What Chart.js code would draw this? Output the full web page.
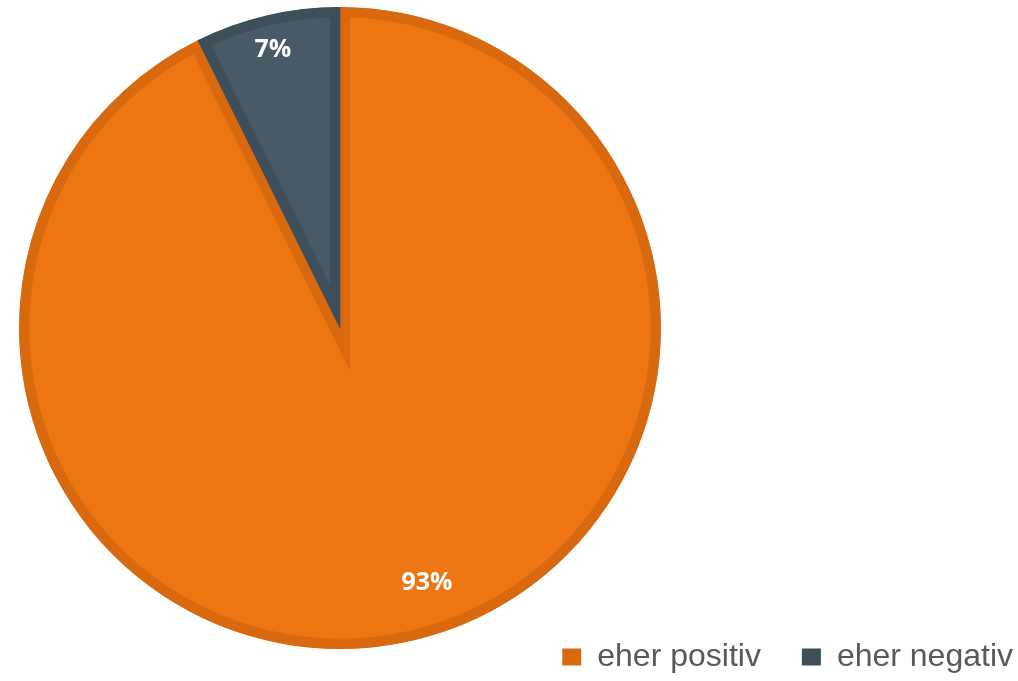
<!DOCTYPE html>
<html>
<head>
<meta charset="utf-8">
<script src="https://cdn.jsdelivr.net/npm/chart.js@4/dist/chart.umd.min.js"></script>
<style>
  html, body { margin: 0; padding: 0; background: #fff; }
  #wrap { width: 1018px; height: 681px; }
</style>
</head>
<body>
<div id="wrap"><canvas id="pie_chart"></canvas></div>
<script>
// datos
const categories = ["eher positiv", "eher negativ"];
const values = [92.7, 7.3];

const fillColors = ['#ED7512', '#485A65'];
const edgeColors = ['#D9690F', '#3F4F59'];

// mueve el pastel a la izquierda y la leyenda abajo a la derecha
const placeBoxes = {
    id: 'placeBoxes',
    afterLayout(chart) {
        const a = chart.chartArea;
        a.left = 19; a.right = 661; a.top = 7; a.bottom = 649;
        a.width = a.right - a.left; a.height = a.bottom - a.top;

        const lg = chart.legend;
        const pad = lg.options.labels.padding;
        lg.right = 1013 + pad;
        lg.left = lg.right - lg.width;
        lg.top = 641 - pad;
        lg.bottom = lg.top + lg.height;
    }
};

// etiquetas blancas dentro de cada sector
const sliceLabels = {
    id: 'sliceLabels',
    afterDatasetsDraw(chart) {
        const ctx = chart.ctx;
        const meta = chart.getDatasetMeta(0);
        const total = values.reduce((s, v) => s + v, 0);
        ctx.save();
        ctx.fillStyle = '#ffffff';
        ctx.font = 'bold 25px "Open Sans", Lato, sans-serif';
        ctx.textAlign = 'center';
        ctx.textBaseline = 'middle';
        meta.data.forEach((arc, i) => {
            const p = arc.getProps(['x', 'y', 'startAngle', 'endAngle', 'outerRadius'], true);
            const ang = p.startAngle + (p.endAngle - p.startAngle) * 0.483;
            const r = p.outerRadius * (i === 0 ? 0.84 : 0.89);
            const txt = Math.round(values[i] / total * 100) + '%';
            ctx.fillText(txt, p.x + Math.cos(ang) * r, p.y + Math.sin(ang) * r);
        });
        ctx.restore();
    }
};

let config = {
    type: 'pie',
    data: {
        labels: categories,
        datasets: [{
            data: values,
            backgroundColor: fillColors,
            borderColor: edgeColors,
            borderWidth: 10,
            borderAlign: 'inner',
            borderJoinStyle: 'miter'
        }]
    },
    options: {
        responsive: true,
        maintainAspectRatio: false,
        animation: false,
        events: [],
        plugins: {
            tooltip: { enabled: false },
            legend: {
                position: 'bottom',
                align: 'end',
                labels: {
                    color: '#595959',
                    font: { family: '"Liberation Sans", Arial, sans-serif', size: 32 },
                    boxWidth: 19,
                    boxHeight: 17,
                    padding: 41,
                    generateLabels(chart) {
                        const items = Chart.overrides.pie.plugins.legend.labels.generateLabels(chart);
                        return items.map((it, i) => Object.assign(it, {
                            fillStyle: edgeColors[i],
                            strokeStyle: edgeColors[i],
                            lineWidth: 0
                        }));
                    }
                }
            }
        }
    },
    plugins: [placeBoxes, sliceLabels]
};

new Chart(document.getElementById("pie_chart").getContext("2d"), config);
</script>
</body>
</html>
